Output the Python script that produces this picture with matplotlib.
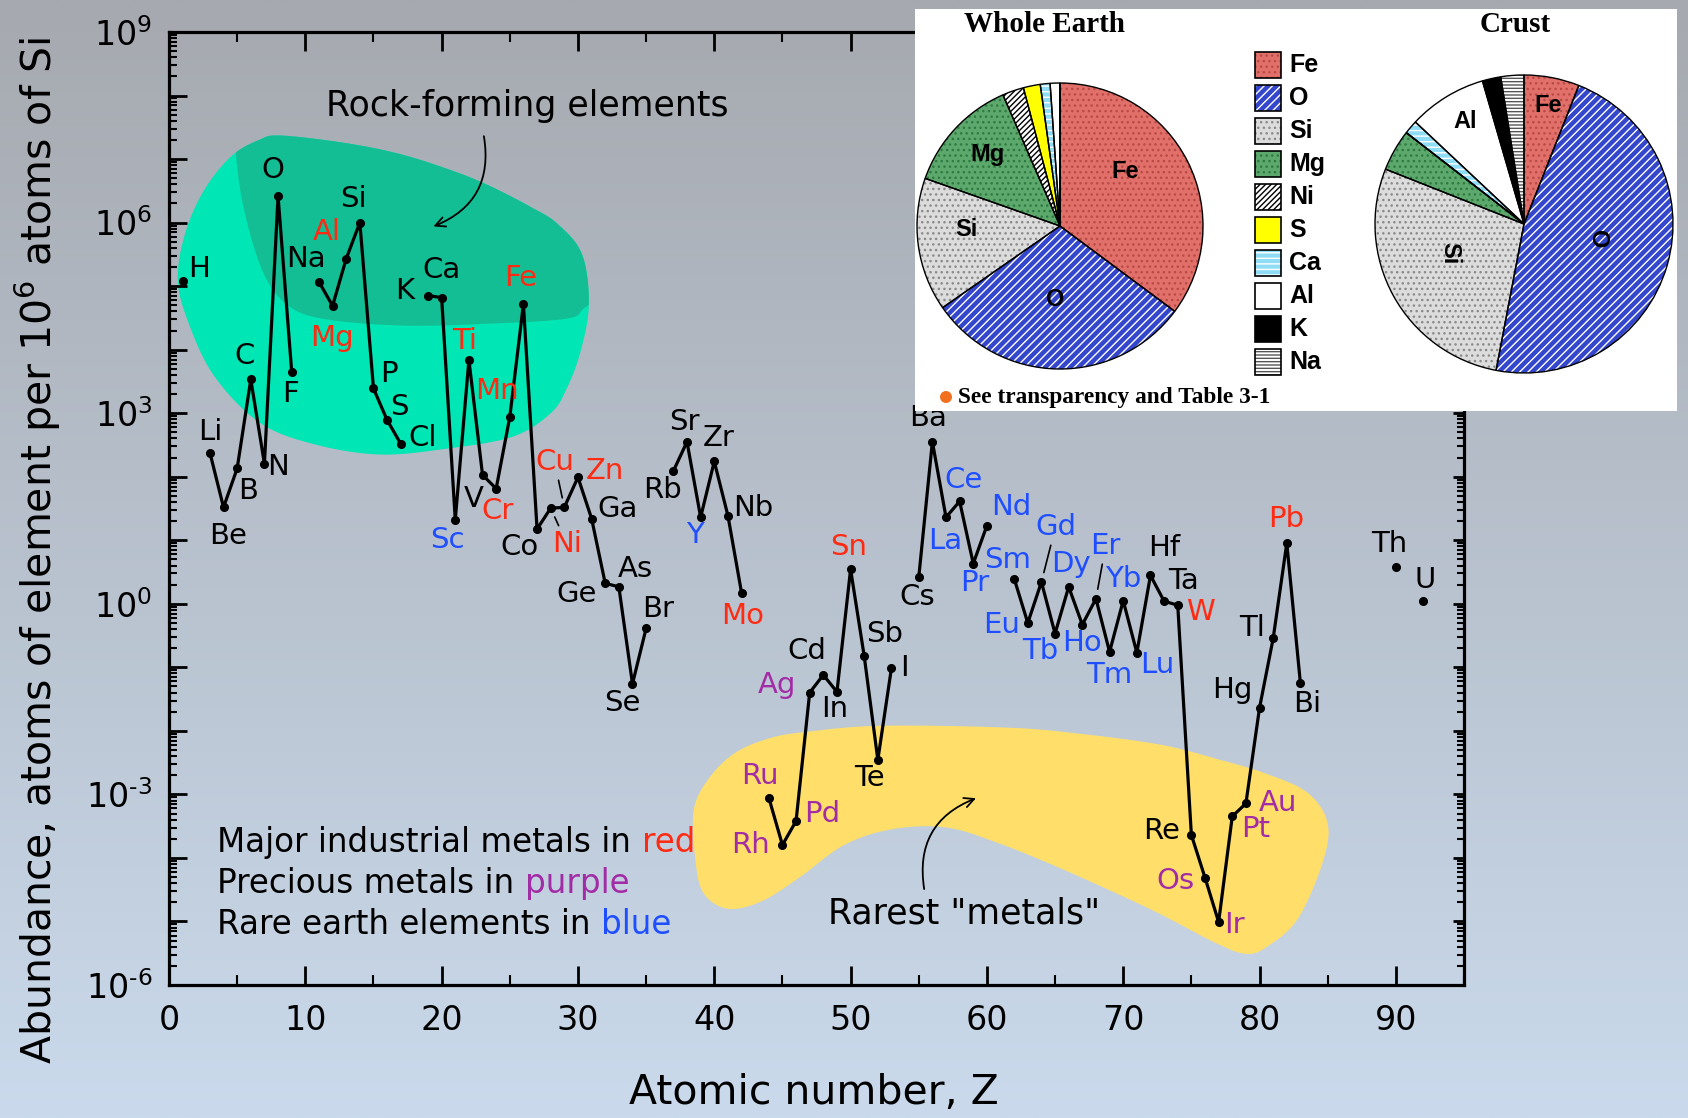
import numpy as np
import matplotlib
matplotlib.use("Agg")
import matplotlib.pyplot as plt
from matplotlib.patches import Polygon, Rectangle, Circle
from matplotlib.ticker import LogLocator, FuncFormatter, MultipleLocator, NullFormatter

# ---------------- data ----------------
symbols = ["H", "Li", "Be", "B", "C", "N", "O", "F", "Na", "Mg", "Al", "Si", "P", "S", "Cl",
           "K", "Ca", "Sc", "Ti", "V", "Cr", "Mn", "Fe", "Co", "Ni", "Cu", "Zn", "Ga", "Ge",
           "As", "Se", "Br", "Rb", "Sr", "Y", "Zr", "Nb", "Mo", "Ru", "Rh", "Pd", "Ag", "Cd",
           "In", "Sn", "Sb", "Te", "I", "Cs", "Ba", "La", "Ce", "Pr", "Nd", "Sm", "Eu", "Gd",
           "Tb", "Dy", "Ho", "Er", "Tm", "Yb", "Lu", "Hf", "Ta", "W", "Re", "Os", "Ir", "Pt",
           "Au", "Hg", "Tl", "Pb", "Bi", "Th", "U"]
atomic_number = [1, 3, 4, 5, 6, 7, 8, 9, 11, 12, 13, 14, 15, 16, 17,
                 19, 20, 21, 22, 23, 24, 25, 26, 27, 28, 29, 30, 31, 32,
                 33, 34, 35, 37, 38, 39, 40, 41, 42, 44, 45, 46, 47, 48,
                 49, 50, 51, 52, 53, 55, 56, 57, 58, 59, 60, 62, 63, 64,
                 65, 66, 67, 68, 69, 70, 71, 72, 73, 74, 75, 76, 77, 78,
                 79, 80, 81, 82, 83, 90, 92]
abundance = [1.2e5, 2.4e2, 3.3e1, 1.35e2, 3.4e3, 1.6e2, 2.6e6, 4.5e3, 1.17e5, 4.9e4, 2.7e5, 1.0e6, 2.45e3, 7.8e2, 3.3e2,
             7.1e4, 6.6e4, 2.1e1, 6.9e3, 1.07e2, 6.5e1, 8.7e2, 5.2e4, 1.5e1, 3.2e1, 3.3e1, 9.8e1, 2.2e1, 2.1e0,
             1.85e0, 5.5e-2, 4.1e-1, 1.23e2, 3.55e2, 2.3e1, 1.74e2, 2.45e1, 1.5e0, 8.9e-4, 1.6e-4, 3.8e-4, 4.0e-2, 7.6e-2,
             4.1e-2, 3.5e0, 1.5e-1, 3.5e-3, 9.8e-2, 2.6e0, 3.55e2, 2.3e1, 4.1e1, 4.3e0, 1.7e1, 2.5e0, 5.0e-1, 2.2e0,
             3.4e-1, 1.85e0, 4.7e-1, 1.2e0, 1.75e-1, 1.12e0, 1.7e-1, 2.8e0, 1.1e0, 9.5e-1, 2.3e-4, 4.9e-5, 9.8e-6, 4.5e-4,
             7.2e-4, 2.3e-2, 2.85e-1, 9.0e0, 5.6e-2, 3.8e0, 1.1e0]

industrial = ["Mg", "Al", "Ti", "Cr", "Mn", "Fe", "Ni", "Cu", "Zn", "Mo", "Sn", "W", "Pb"]
precious = ["Ru", "Rh", "Pd", "Ag", "Os", "Ir", "Pt", "Au"]
rare_earth = ["Sc", "Y", "La", "Ce", "Pr", "Nd", "Sm", "Eu", "Gd", "Tb", "Dy", "Ho", "Er", "Tm", "Yb", "Lu"]

pie_labels = ["Fe", "O", "Si", "Mg", "Ni", "S", "Ca", "Al", "K", "Na"]
whole_earth = [35, 30, 15, 13, 2.4, 1.9, 1.1, 1.1, 0.0, 0.0]
crust = [6, 47, 28, 4.5, 0.0, 0.0, 1.5, 8.5, 2.0, 2.5]

x_ticks = [0, 10, 20, 30, 40, 50, 60, 70, 80, 90]

# ---------------- styles / layout ----------------
RED = "#FF2A12"
PURPLE = "#A22CA6"
BLUE = "#1E4EFF"
GREEN_L = "#00E6B4"
GREEN_D = "#14BE94"
YELLOW = "#FFDF6A"

# label offsets (pixel offsets of label centre from the point, +y down)
label_off = {
    "H": (15, -11), "Li": (0, -19), "Be": (4, 27), "B": (10, 21), "C": (-6, -22), "N": (13, 3),
    "O": (-5, -24), "F": (-1, 21), "Na": (-12, -21), "Mg": (-1, 30), "Al": (-18, -25), "Si": (-6, -22),
    "P": (14, -13), "S": (11, -12), "Cl": (20, -5), "K": (-22, -4), "Ca": (0, -26), "Sc": (-7, 19),
    "Ti": (-4, -18), "V": (-8, 22), "Cr": (1, 21), "Mn": (-12, -24), "Fe": (-3, -24), "Co": (-16, 17),
    "Ni": (15, 33), "Cu": (-9, -42), "Zn": (25, -6), "Ga": (24, -9), "Ge": (-27, 10), "As": (15, -17),
    "Se": (-9, 18), "Br": (11, -18), "Rb": (-10, 18), "Sr": (-2, -18), "Y": (-5, 16), "Zr": (4, -22),
    "Nb": (24, -7), "Mo": (1, 22), "Ru": (-8, -20), "Rh": (-30, 0), "Pd": (24, -7), "Ag": (-30, -7),
    "Cd": (-15, -22), "In": (-2, 16), "Sn": (-2, -21), "Sb": (19, -21), "Te": (-8, 17), "I": (12, 0),
    "Cs": (-1, 18), "Ba": (-4, -22), "La": (-1, 22), "Ce": (4, -20), "Pr": (1, 18), "Nd": (23, -17),
    "Sm": (-6, -17), "Eu": (-24, 2), "Gd": (13, -51), "Tb": (-14, 16), "Dy": (2, -21), "Ho": (0, 17),
    "Er": (9, -49), "Tm": (0, 21), "Yb": (0, -20), "Lu": (19, 11), "Hf": (13, -25), "Ta": (18, -19),
    "W": (21, 6), "Re": (-28, -4), "Os": (-27, 3), "Ir": (15, 3), "Pt": (22, 12), "Au": (30, 0),
    "Hg": (-25, -17), "Tl": (-20, -10), "Pb": (-1, -22), "Bi": (6, 19), "Th": (-6, -21), "U": (2, -20),
}
leader = ["Cu", "Ni", "Gd", "Er"]
PXS = 1.0766  # scale from estimated offsets to output pixels


def smooth_closed(pts, n=24):
    P = np.asarray(pts, float)
    N = len(P)
    t = np.linspace(0, 1, n, endpoint=False)[:, None]
    out = []
    for i in range(N):
        p0, p1, p2, p3 = P[i - 1], P[i], P[(i + 1) % N], P[(i + 2) % N]
        out.append(0.5 * (2 * p1 + (-p0 + p2) * t + (2 * p0 - 5 * p1 + 4 * p2 - p3) * t ** 2
                          + (-p0 + 3 * p1 - 3 * p2 + p3) * t ** 3))
    return np.vstack(out)


def smooth_open(pts, n=24):
    P = np.asarray(pts, float)
    P = np.vstack([2 * P[0] - P[1], P, 2 * P[-1] - P[-2]])
    t = np.linspace(0, 1, n, endpoint=False)[:, None]
    out = []
    for i in range(1, len(P) - 2):
        p0, p1, p2, p3 = P[i - 1], P[i], P[i + 1], P[i + 2]
        out.append(0.5 * (2 * p1 + (-p0 + p2) * t + (2 * p0 - 5 * p1 + 4 * p2 - p3) * t ** 2
                          + (-p0 + 3 * p1 - 3 * p2 + p3) * t ** 3))
    out.append(P[-2][None, :])
    return np.vstack(out)


def to_data(arr):
    arr = np.asarray(arr, float).copy()
    arr[:, 1] = 10.0 ** arr[:, 1]
    return arr


# blob outlines (Z, log10 abundance)
green_outline = [(8.2, 7.37), (13, 7.25), (17.1, 7.07), (21, 6.8), (23.6, 6.57), (26.5, 6.25),
                 (28.5, 5.98), (30.3, 5.5), (30.8, 4.71), (30.2, 3.98), (29.2, 3.4), (28.0, 3.0),
                 (25.2, 2.63), (20.3, 2.44), (15.4, 2.35), (10.5, 2.52), (6.6, 2.86), (3.3, 3.59),
                 (1.4, 4.44), (0.65, 5.11), (1.2, 5.84), (2.6, 6.52), (4.6, 7.05), (6.6, 7.3)]
dark_lower = [(4.6, 8.3), (4.96, 6.97), (5.6, 6.12), (6.9, 5.22), (8.6, 4.72), (11.2, 4.49),
              (17.1, 4.38), (23.6, 4.41), (29.2, 4.49), (30.5, 4.66), (32.5, 5.0)]
yellow_outline = [(38.5, -3.24), (39.6, -2.75), (41.5, -2.35), (44, -2.12), (46.6, -2.02),
                  (52.2, -1.92), (61.6, -1.95), (67, -2.05), (72.8, -2.22), (77, -2.45),
                  (80.3, -2.66), (83.5, -2.97), (85.0, -3.46), (84.6, -4.09), (82.8, -4.96),
                  (80.6, -5.39), (79, -5.51), (76.7, -5.33), (72.2, -4.83), (66, -4.22),
                  (61, -3.78), (57, -3.52), (53, -3.55), (49.5, -3.8), (46.3, -4.3),
                  (43.5, -4.68), (41, -4.8), (39.2, -4.55), (38.6, -4.0)]

# ---------------- figure ----------------
W, H = 1688, 1118
fig = plt.figure(figsize=(W / 100, H / 100), dpi=100)

# gradient background
bg = fig.add_axes([0, 0, 1, 1], zorder=-10)
top_c = np.array([0xA6, 0xA9, 0xAF]) / 255
bot_c = np.array([0xCA, 0xDA, 0xEC]) / 255
g = np.linspace(0, 1, 256)[:, None]
grad = top_c[None, :] * (1 - g) + bot_c[None, :] * g
bg.imshow(grad[:, None, :].repeat(2, axis=1), aspect="auto", extent=(0, 1, 0, 1), interpolation="bilinear")
bg.set_axis_off()

ax = fig.add_axes([169 / W, 1 - 985 / H, (1464 - 169) / W, (985 - 32) / H])
ax.set_facecolor("none")
ax.set_yscale("log")
ax.set_xlim(0, 95)
ax.set_ylim(1e-6, 1e9)

# blobs
green_patch = Polygon(to_data(smooth_closed(green_outline)), closed=True, facecolor=GREEN_L,
                      edgecolor="none", zorder=1)
ax.add_patch(green_patch)
dl = smooth_open(dark_lower)
dark_pts = np.vstack([dl, [[33, 8.5], [4.0, 8.5]]])
dark_patch = Polygon(to_data(dark_pts), closed=True, facecolor=GREEN_D, edgecolor="none", zorder=1.1)
ax.add_patch(dark_patch)
dark_patch.set_clip_path(green_patch)
ax.add_patch(Polygon(to_data(smooth_closed(yellow_outline)), closed=True, facecolor=YELLOW,
                     edgecolor="none", zorder=1))

# line with gaps
zfull = np.arange(1, 93)
yfull = np.full(zfull.shape, np.nan)
for z, a in zip(atomic_number, abundance):
    yfull[z - 1] = a
ax.plot(zfull, yfull, color="black", lw=2.3, zorder=3)
ax.plot(atomic_number, abundance, "o", color="black", ms=5.5, zorder=4)

# element labels
for s, z, a in zip(symbols, atomic_number, abundance):
    if s in industrial:
        c = RED
    elif s in precious:
        c = PURPLE
    elif s in rare_earth:
        c = BLUE
    else:
        c = "black"
    dx, dy = label_off[s]
    kw = dict(textcoords="offset pixels", ha="center", va="center", fontsize=21, color=c, zorder=5)
    if s in leader:
        ax.annotate(s, xy=(z, a), xytext=(dx * PXS, -dy * PXS),
                    arrowprops=dict(arrowstyle="-", color="black", lw=1.2, shrinkA=1, shrinkB=7), **kw)
    else:
        ax.annotate(s, xy=(z, a), xytext=(dx * PXS, -dy * PXS), **kw)

# annotations
ax.text(26.3, 10 ** 7.83, "Rock-forming elements", ha="center", va="center", fontsize=25, zorder=5)
ax.annotate("", xy=(19.4, 10 ** 5.94), xytext=(23.1, 10 ** 7.36),
            arrowprops=dict(arrowstyle="->,head_length=0.7,head_width=0.35", lw=1.3, color="black",
                            connectionstyle="arc3,rad=-0.4", shrinkA=0, shrinkB=0), zorder=5)
ax.text(58.3, 10 ** -4.87, 'Rarest "metals"', ha="center", va="center", fontsize=25, zorder=5)
ax.annotate("", xy=(59.2, 10 ** -3.06), xytext=(55.4, 10 ** -4.49),
            arrowprops=dict(arrowstyle="->,head_length=0.7,head_width=0.35", lw=1.3, color="black",
                            connectionstyle="arc3,rad=-0.4", shrinkA=0, shrinkB=0), zorder=5)

for (txt, word, col), ly in zip([("Major industrial metals in", "red", RED),
                                  ("Precious metals in", "purple", PURPLE),
                                  ("Rare earth elements in", "blue", BLUE)],
                                 [-3.76, -4.41, -5.04]):
    t = ax.text(3.55, 10 ** ly, txt, ha="left", va="center", fontsize=23.5, zorder=5)
    ax.annotate(word, xy=(1, 0), xycoords=t, xytext=(7.5, 0), textcoords="offset points",
                ha="left", va="bottom", fontsize=23.5, color=col, zorder=5)

# axes styling
for sp in ax.spines.values():
    sp.set_linewidth(2.3)
ax.xaxis.set_major_locator(MultipleLocator(10))
ax.xaxis.set_minor_locator(MultipleLocator(5))
ax.set_xticks(x_ticks)
ax.yaxis.set_major_locator(LogLocator(base=10, numticks=30))
ax.yaxis.set_minor_locator(LogLocator(base=10, subs=np.arange(2, 10), numticks=30))
ax.yaxis.set_minor_formatter(NullFormatter())


def yfmt(v, pos):
    e = int(round(np.log10(v)))
    if e % 3:
        return ""
    s = str(e).replace("-", "\u2010")
    return r"$\mathregular{10^{%s}}$" % s


ax.yaxis.set_major_formatter(FuncFormatter(yfmt))
ax.tick_params(axis="both", which="major", direction="in", length=14, width=2.0, labelsize=24,
               top=True, right=False, pad=12)
ax.tick_params(axis="both", which="minor", direction="in", length=7, width=1.5, top=True, right=False)
ax.tick_params(axis="x", which="major", pad=14)
ax.tick_params(axis="y", which="major", length=13)
ax.tick_params(axis="y", which="minor", length=6)

axr = ax.twinx()
axr.set_yscale("log")
axr.set_ylim(1e-6, 1e9)
axr.yaxis.set_major_locator(LogLocator(base=10, numticks=30))
axr.yaxis.set_minor_locator(LogLocator(base=10, subs=np.arange(2, 10), numticks=30))
axr.yaxis.set_major_formatter(NullFormatter())
axr.yaxis.set_minor_formatter(NullFormatter())
axr.tick_params(axis="y", which="major", direction="in", length=8, width=2.0)
axr.tick_params(axis="y", which="minor", direction="in", length=5, width=1.5)
for sp in axr.spines.values():
    sp.set_visible(False)

fig.text(0.0225, 0.508, r"Abundance, atoms of element per 10$^{6}$ atoms of Si", rotation=90,
         ha="center", va="center", fontsize=29.5)
fig.text(0.482, 0.022, "Atomic number, Z", ha="center", va="center", fontsize=29.5)

# ---------------- pie inset ----------------
IX0, IY0, IX1, IY1 = 915, 9, 1677, 411
ins = fig.add_axes([IX0 / W, 1 - IY1 / H, (IX1 - IX0) / W, (IY1 - IY0) / H])
iw, ih = IX1 - IX0, IY1 - IY0

face = {"Fe": "#E2706A", "O": "#3346CC", "Si": "#DCDCDC", "Mg": "#5DA86C", "Ni": "#FFFFFF",
        "S": "#FFFF00", "Ca": "#8FDDF5", "Al": "#FFFFFF", "K": "#000000", "Na": "#FFFFFF"}
hatch = {"Fe": "...", "O": "////", "Si": "...", "Mg": "...", "Ni": "//////", "S": "",
         "Ca": "---", "Al": "", "K": "", "Na": "-----"}
hcol = {"Fe": "#B94A44", "O": "#FFFFFF", "Si": "#8A8A8A", "Mg": "#2F7A40", "Ni": "#000000",
        "S": "#FFFF00", "Ca": "#FFFFFF", "Al": "#FFFFFF", "K": "#000000", "Na": "#555555"}
plt.rcParams["hatch.linewidth"] = 1.0

ins.add_patch(Rectangle((0, 0), iw, ih, facecolor="white", edgecolor="none", zorder=0))
for vals, cen, rad in [(whole_earth, (145, 185), 143), (crust, (609, 187), 149)]:
    wedges, _ = ins.pie(vals, center=cen, radius=rad, startangle=90, counterclock=False,
                        colors=[face[k] for k in pie_labels])
    for w_, k in zip(wedges, pie_labels):
        w_.set_hatch(hatch[k])
        w_.set_edgecolor(hcol[k])
        w_.set_linewidth(0)
        w_.set_zorder(1)
    outl, _ = ins.pie(vals, center=cen, radius=rad, startangle=90, counterclock=False,
                      wedgeprops=dict(fill=False, edgecolor="black", linewidth=1.0))
    for w_ in outl:
        w_.set_zorder(2)

serif = ["Liberation Serif", "DejaVu Serif"]
narrow = ["Liberation Sans Narrow", "Liberation Sans"]

# legend squares
for i, k in enumerate(pie_labels):
    yc = ih - (56 + 33.0 * i)
    ins.add_patch(Rectangle((340, yc - 13), 26, 26, facecolor=face[k], hatch=hatch[k],
                            edgecolor=hcol[k], linewidth=0, zorder=1))
    ins.add_patch(Rectangle((340, yc - 13), 26, 26, fill=False, edgecolor="black", linewidth=1.2, zorder=2))
    ins.text(374, yc, k, ha="left", va="center", fontsize=18, fontweight="bold", family=narrow, zorder=3)

ins.text(129, ih - 15, "Whole Earth", ha="center", va="center", fontsize=21, fontweight="bold", family=serif)
ins.text(600, ih - 15, "Crust", ha="center", va="center", fontsize=21, fontweight="bold", family=serif)
ins.add_patch(Circle((31, 14), 6, facecolor="#F07020", edgecolor="none", zorder=3))
ins.text(43, 13, "See transparency and Table 3-1", ha="left", va="center", fontsize=16.8,
         fontweight="bold", family=serif, zorder=3)
for txt, x, y, rot in [("Fe", 210, 239, 0), ("O", 140, 112, 0), ("Si", 51, 182, 0), ("Mg", 73, 257, 0),
                       ("Fe", 633, 305, 0), ("O", 682, 172, -90), ("Si", 535, 158, -90), ("Al", 550, 289, 0)]:
    ins.text(x, y, txt, ha="center", va="center", fontsize=17, fontweight="bold", family=narrow,
             rotation=rot, zorder=4)

ins.set_xlim(0, iw)
ins.set_ylim(0, ih)
ins.set_aspect("auto")
ins.set_axis_off()

fig.savefig("out.png", dpi=100)
